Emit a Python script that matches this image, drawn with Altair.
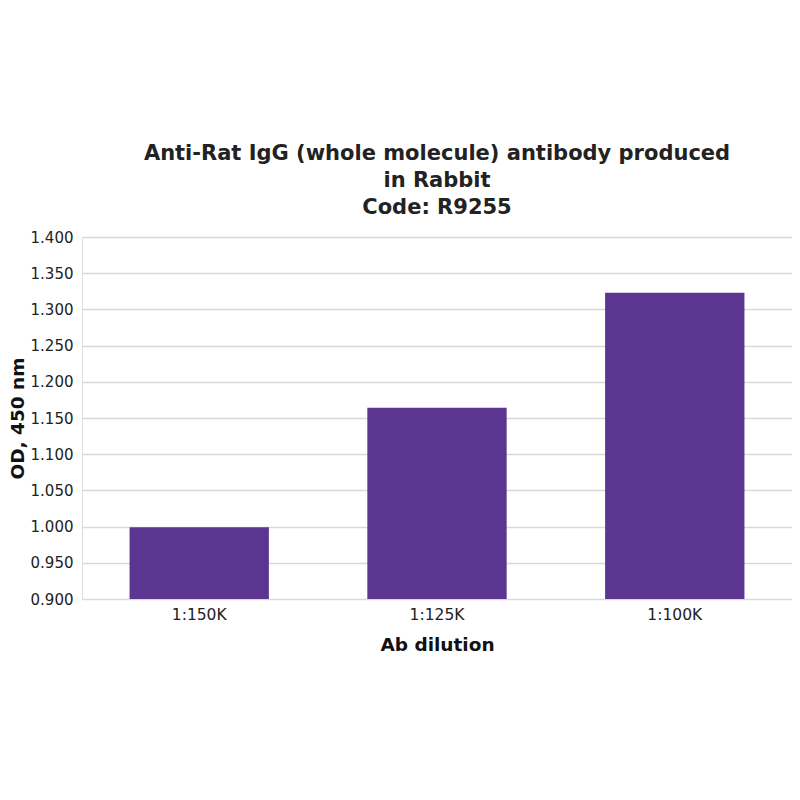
import altair as alt
import pandas as pd

categories = ["1:150K", "1:125K", "1:100K"]
values = [0.999, 1.164, 1.323]

df = pd.DataFrame({"dilution": categories, "od": values})

chart = alt.Chart(df).mark_bar(color="#5b3590", clip=True).encode(
    x=alt.X("dilution:N", sort=categories, title="Ab dilution",
            scale=alt.Scale(paddingInner=0.414, paddingOuter=0.2),
            axis=alt.Axis(labelAngle=0, domain=False, ticks=False, grid=False,
                          labelFontSize=15.5, labelColor="#222", labelPadding=8,
                          titleFontSize=18.5, titleFontWeight="bold", titlePadding=13,
                          titleColor="#111")),
    y=alt.Y("od:Q", title="OD, 450 nm",
            scale=alt.Scale(domain=[0.9, 1.4], nice=False, zero=False),
            axis=alt.Axis(values=[0.9, 0.95, 1.0, 1.05, 1.1, 1.15, 1.2, 1.25, 1.3, 1.35, 1.4],
                          format=".3f", domain=False, ticks=False,
                          gridColor="#d9d9d9", gridWidth=1.5,
                          labelFontSize=15, labelColor="#222", labelPadding=9,
                          titleFontSize=18.5, titleFontWeight="bold", titlePadding=3,
                          titleColor="#111")),
).properties(
    width=710, height=362,
    title=alt.TitleParams(
        text=["Anti-Rat IgG (whole molecule) antibody produced", "in Rabbit", "Code: R9255"],
        fontSize=21, fontWeight="bold", color="#222", lineHeight=27, offset=12,
        anchor="middle"),
    autosize=alt.AutoSizeParams(type="none"),
    padding={"left": 74, "top": 229, "right": 0, "bottom": 150},
).configure_view(stroke=None).configure(font="DejaVu Sans")

chart.save("out.html", embed_options={"renderer": "svg", "actions": False})
